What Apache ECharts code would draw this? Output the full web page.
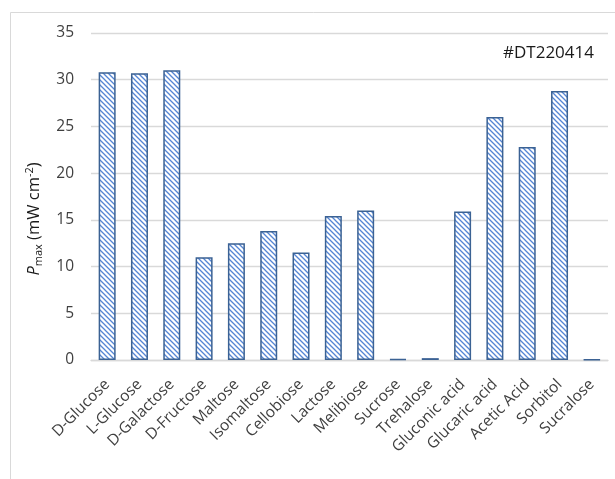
<!DOCTYPE html>
<html>
<head>
<meta charset="utf-8">
<script src="https://cdn.jsdelivr.net/npm/echarts@6/dist/echarts.min.js"></script>
<style>
  html, body { margin: 0; padding: 0; background: #fff; }
  #chart { width: 615px; height: 479px; }
</style>
</head>
<body>
<div id="chart"></div>
<script>
// Substrates tested and their maximum power density (mW cm^-2)
const categories = [
  'D-Glucose', 'L-Glucose', 'D-Galactose', 'D-Fructose', 'Maltose',
  'Isomaltose', 'Cellobiose', 'Lactose', 'Melibiose', 'Sucrose',
  'Trehalose', 'Gluconic acid', 'Glucaric acid', 'Acetic Acid', 'Sorbitol', 'Sucralose'
];
const pmaxValues = [
  30.8, 30.7, 31.0, 11.0, 12.5,
  13.8, 11.5, 15.4, 16.0, 0.1,
  0.2, 15.9, 26.0, 22.8, 28.8, 0.05
];
const yTicks = { min: 0, max: 35, interval: 5 };
const sampleId = '#DT220414';

// Diagonal hatch fill for the bars
function hatchPattern() {
  const s = 5;
  const c = document.createElement('canvas');
  c.width = s; c.height = s;
  const g = c.getContext('2d');
  g.fillStyle = '#ffffff';
  g.fillRect(0, 0, s, s);
  g.strokeStyle = '#5585d4';
  g.lineWidth = 1.3;
  g.beginPath();
  g.moveTo(-1, -1); g.lineTo(s + 1, s + 1);
  g.moveTo(-1, s - 1); g.lineTo(1, s + 1);
  g.moveTo(s - 1, -1); g.lineTo(s + 1, 1);
  g.stroke();
  return c;
}

const FONT = '"Open Sans", "Liberation Sans", sans-serif';
const chart = echarts.init(document.getElementById('chart'), null, { renderer: 'canvas' });

chart.setOption({
  animation: false,
  backgroundColor: '#ffffff',
  grid: { left: 91, right: 7, top: 33, bottom: 119 },
  xAxis: {
    type: 'category',
    data: categories,
    axisLine: { lineStyle: { color: '#d9d9d9', width: 1.3 } },
    axisTick: { show: false },
    axisLabel: {
      rotate: 45,
      interval: 0,
      margin: 22,
      color: '#404040',
      fontFamily: FONT,
      fontSize: 15.5
    }
  },
  yAxis: {
    type: 'value',
    min: yTicks.min,
    max: yTicks.max,
    interval: yTicks.interval,
    axisLine: { show: false },
    axisTick: { show: false },
    splitLine: { lineStyle: { color: '#d9d9d9', width: 1.3 } },
    axisLabel: {
      margin: 17,
      color: '#404040',
      fontFamily: FONT,
      fontSize: 15.5
    }
  },
  series: [{
    type: 'bar',
    data: pmaxValues,
    barWidth: 17,
    itemStyle: {
      color: { image: hatchPattern(), repeat: 'repeat' },
      borderColor: '#3b6294',
      borderWidth: 1.5
    }
  }],
  graphic: [
    {
      type: 'rect',
      silent: true,
      shape: { x: 10.5, y: 12.5, width: 640, height: 520 },
      style: { fill: 'none', stroke: '#d9d9d9', lineWidth: 1 },
      z: -1
    },
    {
      type: 'text',
      left: 503,
      top: 45,
      style: {
        text: sampleId,
        fill: '#1a1a1a',
        font: '17px ' + FONT
      }
    },
    {
      type: 'text',
      x: 34,
      y: 219,
      rotation: Math.PI / 2,
      style: {
        text: '{p|P}{sub|max}{n| (mW cm}{sup|-2}{n|)}',
        fill: '#1a1a1a',
        align: 'center',
        verticalAlign: 'middle',
        rich: {
          p: { fontFamily: FONT, fontSize: 16.5, fontStyle: 'italic', fill: '#1a1a1a', lineHeight: 22 },
          sub: { fontFamily: FONT, fontSize: 11, fill: '#1a1a1a', padding: [9, 0, 0, 0], lineHeight: 22 },
          n: { fontFamily: FONT, fontSize: 16.5, fill: '#1a1a1a', lineHeight: 22 },
          sup: { fontFamily: FONT, fontSize: 11, fill: '#1a1a1a', padding: [0, 0, 9, 0], lineHeight: 22 }
        }
      }
    }
  ]
});
</script>
</body>
</html>
